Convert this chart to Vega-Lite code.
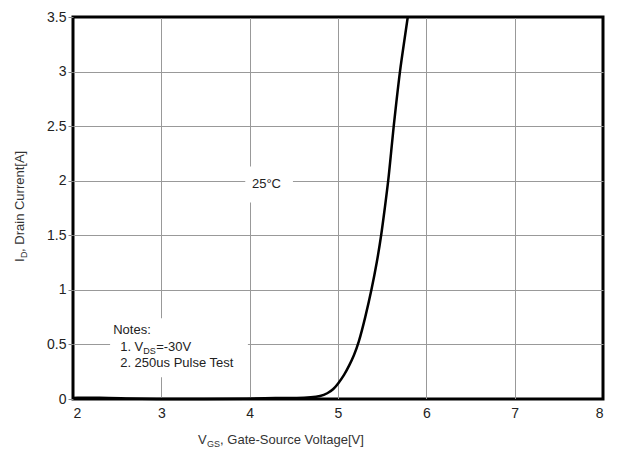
{
  "$schema": "https://vega.github.io/schema/vega-lite/v6.json",
  "width": 530,
  "height": 382,
  "autosize": {"type": "none"},
  "padding": {"left": 73, "top": 17, "right": 17, "bottom": 56},
  "background": "white",
  "config": {
    "view": {"stroke": "black", "strokeWidth": 3},
    "font": "Liberation Sans",
    "text": {"font": "Liberation Sans", "color": "#222"}
  },
  "layer": [
    {
      "data": {"values": [
        {"x0": 2.42, "x1": 3.98, "y0": 0.2, "y1": 0.74},
        {"x0": 3.95, "x1": 4.49, "y0": 1.8, "y1": 2.13}
      ]},
      "mark": {"type": "rect", "fill": "white"},
      "encoding": {
        "x": {"field": "x0", "type": "quantitative"},
        "x2": {"field": "x1"},
        "y": {"field": "y0", "type": "quantitative"},
        "y2": {"field": "y1"}
      }
    },
    {
      "data": {"values": [
        {"vgs": 2.0, "id": 0.01}, {"vgs": 2.3, "id": 0.012}, {"vgs": 2.6, "id": 0.005},
        {"vgs": 2.9, "id": 0.0}, {"vgs": 3.5, "id": 0.0}, {"vgs": 4.0, "id": 0.002},
        {"vgs": 4.3, "id": 0.012}, {"vgs": 4.55, "id": 0.008}, {"vgs": 4.7, "id": 0.015},
        {"vgs": 4.8, "id": 0.025}, {"vgs": 4.88, "id": 0.05}, {"vgs": 4.95, "id": 0.09},
        {"vgs": 5.0, "id": 0.14}, {"vgs": 5.07, "id": 0.22}, {"vgs": 5.13, "id": 0.31},
        {"vgs": 5.18, "id": 0.4}, {"vgs": 5.23, "id": 0.5}, {"vgs": 5.31, "id": 0.75},
        {"vgs": 5.38, "id": 1.0}, {"vgs": 5.44, "id": 1.25}, {"vgs": 5.49, "id": 1.5},
        {"vgs": 5.53, "id": 1.75}, {"vgs": 5.57, "id": 2.0}, {"vgs": 5.6, "id": 2.25},
        {"vgs": 5.63, "id": 2.5}, {"vgs": 5.665, "id": 2.75}, {"vgs": 5.7, "id": 3.0},
        {"vgs": 5.745, "id": 3.25}, {"vgs": 5.79, "id": 3.5}
      ]},
      "mark": {"type": "line", "color": "black", "strokeWidth": 2.5, "interpolate": "basis"},
      "encoding": {
        "x": {
          "field": "vgs", "type": "quantitative",
          "scale": {"domain": [2, 8], "nice": false, "zero": false},
          "axis": {
            "title": null, "values": [2, 3, 4, 5, 6, 7, 8], "domain": false, "ticks": false,
            "labelExpr": "'' + datum.value",
            "labelFontSize": 14, "labelColor": "#222", "labelPadding": 7,
            "gridColor": {"condition": {"test": "datum.value == 2 || datum.value == 8", "value": "black"}, "value": "#999"},
            "gridWidth": 1
          }
        },
        "y": {
          "field": "id", "type": "quantitative",
          "scale": {"domain": [0, 3.5], "nice": false},
          "axis": {
            "title": null, "values": [0, 0.5, 1, 1.5, 2, 2.5, 3, 3.5], "domain": false,
            "labelExpr": "'' + datum.value",
            "tickSize": 5, "tickColor": "#888", "labelPadding": 2,
            "labelFontSize": 14, "labelColor": "#222",
            "gridColor": {"condition": {"test": "datum.value == 0 || datum.value == 3.5", "value": "black"}, "value": "#999"},
            "gridWidth": 1
          }
        }
      }
    },
    {
      "data": {"values": [{"x": 4.19, "y": 1.97, "t": "25°C"}]},
      "mark": {"type": "text", "fontSize": 13, "align": "center", "baseline": "middle"},
      "encoding": {
        "x": {"field": "x", "type": "quantitative"},
        "y": {"field": "y", "type": "quantitative"},
        "text": {"field": "t"}
      }
    },
    {
      "data": {"values": [{"x": 2.455, "y": 0.63, "t": "Notes:"}]},
      "mark": {"type": "text", "fontSize": 13, "align": "left", "baseline": "middle"},
      "encoding": {
        "x": {"field": "x", "type": "quantitative"},
        "y": {"field": "y", "type": "quantitative"},
        "text": {"field": "t"}
      }
    },
    {
      "data": {"values": [{"x": 2.534, "y": 0.33, "t": "2. 250us Pulse Test"}]},
      "mark": {"type": "text", "fontSize": 13, "align": "left", "baseline": "middle"},
      "encoding": {
        "x": {"field": "x", "type": "quantitative"},
        "y": {"field": "y", "type": "quantitative"},
        "text": {"field": "t"}
      }
    },
    {
      "data": {"values": [{"x": 2.534, "y": 0.48, "t": "1. V"}]},
      "mark": {"type": "text", "fontSize": 13, "align": "left", "baseline": "middle"},
      "encoding": {
        "x": {"field": "x", "type": "quantitative"},
        "y": {"field": "y", "type": "quantitative"},
        "text": {"field": "t"}
      }
    },
    {
      "data": {"values": [{"x": 2.534, "y": 0.48, "t": "DS"}]},
      "mark": {"type": "text", "fontSize": 9, "align": "left", "baseline": "middle", "dx": 23, "dy": 4},
      "encoding": {
        "x": {"field": "x", "type": "quantitative"},
        "y": {"field": "y", "type": "quantitative"},
        "text": {"field": "t"}
      }
    },
    {
      "data": {"values": [{"x": 2.534, "y": 0.48, "t": "=-30V"}]},
      "mark": {"type": "text", "fontSize": 13, "align": "left", "baseline": "middle", "dx": 36},
      "encoding": {
        "x": {"field": "x", "type": "quantitative"},
        "y": {"field": "y", "type": "quantitative"},
        "text": {"field": "t"}
      }
    },
    {
      "data": {"values": [{"x": 3.416, "y": -0.41, "t": "V"}]},
      "mark": {"type": "text", "fontSize": 13, "align": "left", "baseline": "alphabetic", "color": "#333"},
      "encoding": {
        "x": {"field": "x", "type": "quantitative"},
        "y": {"field": "y", "type": "quantitative"},
        "text": {"field": "t"}
      }
    },
    {
      "data": {"values": [{"x": 3.416, "y": -0.41, "t": "GS"}]},
      "mark": {"type": "text", "fontSize": 9, "align": "left", "baseline": "alphabetic", "color": "#333", "dx": 9, "dy": 3},
      "encoding": {
        "x": {"field": "x", "type": "quantitative"},
        "y": {"field": "y", "type": "quantitative"},
        "text": {"field": "t"}
      }
    },
    {
      "data": {"values": [{"x": 3.416, "y": -0.41, "t": ", Gate-Source Voltage[V]"}]},
      "mark": {"type": "text", "fontSize": 13, "align": "left", "baseline": "alphabetic", "color": "#333", "dx": 22},
      "encoding": {
        "x": {"field": "x", "type": "quantitative"},
        "y": {"field": "y", "type": "quantitative"},
        "text": {"field": "t"}
      }
    },
    {
      "data": {"values": [{"x": 1.44, "y": 1.256, "t": "I"}]},
      "mark": {"type": "text", "fontSize": 13, "align": "left", "baseline": "alphabetic", "color": "#333", "angle": 270},
      "encoding": {
        "x": {"field": "x", "type": "quantitative"},
        "y": {"field": "y", "type": "quantitative"},
        "text": {"field": "t"}
      }
    },
    {
      "data": {"values": [{"x": 1.44, "y": 1.256, "t": "D"}]},
      "mark": {"type": "text", "fontSize": 9, "align": "left", "baseline": "alphabetic", "color": "#333", "angle": 270, "dx": 4, "dy": 3},
      "encoding": {
        "x": {"field": "x", "type": "quantitative"},
        "y": {"field": "y", "type": "quantitative"},
        "text": {"field": "t"}
      }
    },
    {
      "data": {"values": [{"x": 1.44, "y": 1.256, "t": ", Drain Current[A]"}]},
      "mark": {"type": "text", "fontSize": 13, "align": "left", "baseline": "alphabetic", "color": "#333", "angle": 270, "dx": 10},
      "encoding": {
        "x": {"field": "x", "type": "quantitative"},
        "y": {"field": "y", "type": "quantitative"},
        "text": {"field": "t"}
      }
    }
  ]
}
